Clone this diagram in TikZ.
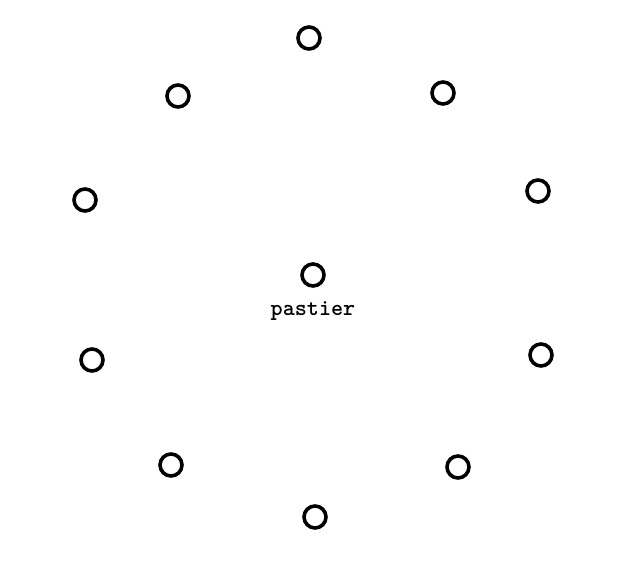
\documentclass[tikz,border=0pt]{standalone}
\usepackage{tikz}
\usetikzlibrary{positioning}

\begin{document}
\begin{tikzpicture}[
    x=1pt, y=-1pt,
    ring/.style={circle, draw, line width=3.6pt, minimum size=22pt, inner sep=0pt},
    label/.style={font=\ttfamily\bfseries\fontsize{23}{26}\selectfont, inner sep=0pt}
]

% Page
\useasboundingbox (0,0) rectangle (629,562);

% Outer ring
\node[ring] (n1) at (309,38) {};
\node[ring] (n2) at (443,93) {};
\node[ring] (n3) at (538,191) {};
\node[ring] (n4) at (541,355) {};
\node[ring] (n5) at (458,467) {};
\node[ring] (n6) at (315,517) {};
\node[ring] (n7) at (171,465) {};
\node[ring] (n8) at (92,360) {};
\node[ring] (n9) at (85,200) {};
\node[ring] (n10) at (178,96) {};

% Centre
\node[ring] (centre) at (313,275) {};
\node[label, below=14pt of centre] (centre_label) {pastier};

\end{tikzpicture}
\end{document}
